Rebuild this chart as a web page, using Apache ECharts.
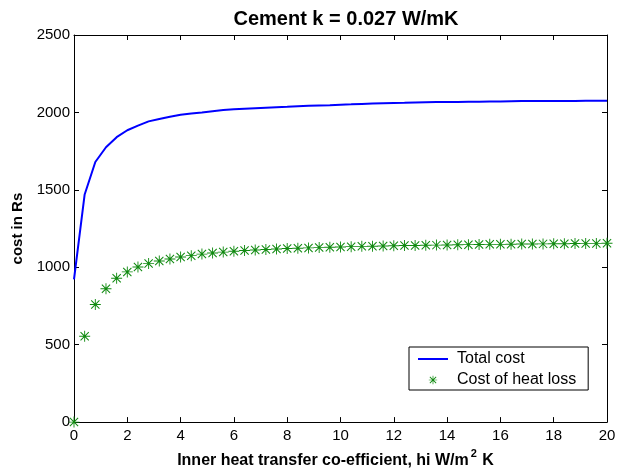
<!DOCTYPE html>
<html>
<head>
<meta charset="utf-8">
<script src="https://cdn.jsdelivr.net/npm/echarts@6/dist/echarts.min.js"></script>
<style>html,body{margin:0;padding:0;background:#fff}#c{width:628px;height:474px}</style>
</head>
<body>
<div id="c"></div>
<script>
// Inner heat transfer coefficient hi (W/m^2 K)
var hiValues = [0,0.4,0.8,1.2,1.6,2,2.4,2.8,3.2,3.6,4,4.4,4.8,5.2,5.6,6,6.4,6.8,7.2,7.6,8,8.4,8.8,9.2,9.6,10,10.4,10.8,11.2,11.6,12,12.4,12.8,13.2,13.6,14,14.4,14.8,15.2,15.6,16,16.4,16.8,17.2,17.6,18,18.4,18.8,19.2,19.6,20];
// Total cost (Rs)
var totalCost = [921,1470,1680,1775,1840,1885,1915,1942,1958,1972,1985,1993,2000,2008,2015,2020,2024,2027,2030,2033,2036,2040,2043,2045,2047,2050,2052,2055,2058,2060,2061,2062,2064,2066,2067,2068,2068,2069,2069,2070,2071,2072,2073,2073,2073,2074,2074,2074,2075,2075,2075];
// Cost of heat loss (Rs)
var heatLossCost = [0,554,759,861,929,970,1002,1025,1040,1053,1066,1075,1085,1092,1098,1103,1108,1112,1115,1118,1121,1123,1125,1127,1129,1131,1133,1135,1136,1137,1139,1140,1141,1142,1143,1144,1145,1146,1147,1148,1148,1149,1150,1150,1151,1152,1152,1153,1154,1154,1155];
var seriesNames = ['Total cost', 'Cost of heat loss'];
var titleText = 'Cement k = 0.027 W/mK';
var xTitle = 'Inner heat transfer co-efficient, hi W/m';
var yTitle = 'cost in Rs';
var xMin = 0, xMax = 20, xStep = 2;
var yMin = 0, yMax = 2500, yStep = 500;

var FONT = '"Liberation Sans", Arial, sans-serif';
var star = 'path://M0,5.5 L12,5.5 L12,6.5 L0,6.5 Z M5.5,0 L6.5,0 L6.5,12 L5.5,12 Z M1.1,1.9 L1.9,1.1 L10.9,10.1 L10.1,10.9 Z M10.1,1.1 L10.9,1.9 L1.9,10.9 L1.1,10.1 Z';
// same star, padded with empty bounds so it is drawn smaller in the legend box
var starLegend = 'path://M-4,-4 L-4,-4 Z M16,16 L16,16 Z M0,5.5 L12,5.5 L12,6.5 L0,6.5 Z M5.5,0 L6.5,0 L6.5,12 L5.5,12 Z M1.1,1.9 L1.9,1.1 L10.9,10.1 L10.1,10.9 Z M10.1,1.1 L10.9,1.9 L1.9,10.9 L1.1,10.1 Z';
var lineLegend = 'path://M0,0 L30,0 L30,2 L0,2 Z';

function zip(xs, ys) { return xs.map(function (x, i) { return [x, ys[i]]; }); }

var axisCommon = {
  axisLine: { show: true, onZero: false, lineStyle: { color: '#000', width: 1 } },
  axisTick: { show: true, inside: true, length: 5, lineStyle: { color: '#000', width: 1 } },
  splitLine: { show: false }
};

var chart = echarts.init(document.getElementById('c'), null, { renderer: 'canvas' });
chart.setOption({
  animation: false,
  backgroundColor: '#fff',
  title: {
    text: titleText, left: 341, top: 4, textAlign: 'center',
    textStyle: { fontFamily: FONT, fontSize: 20, fontWeight: 'bold', color: '#000' }
  },
  grid: { left: 74, right: 21, top: 35, bottom: 48, containLabel: false },
  legend: {
    orient: 'vertical', left: 409, top: 347,
    padding: [4, 12, 2, 9], itemGap: 5, itemWidth: 30, itemHeight: 14,
    symbolKeepAspect: true,
    backgroundColor: '#fff', borderColor: '#000', borderWidth: 1, borderRadius: 0,
    textStyle: { fontFamily: FONT, fontSize: 16, color: '#000', lineHeight: 16, padding: [0, 0, 0, 4] },
    data: [
      { name: seriesNames[0], icon: lineLegend, itemStyle: { color: '#0000ff' } },
      { name: seriesNames[1], icon: starLegend }
    ]
  },
  xAxis: [
    Object.assign({}, axisCommon, {
      type: 'value', min: xMin, max: xMax, interval: xStep, position: 'bottom',
      axisLabel: { color: '#000', fontFamily: FONT, fontSize: 15, margin: 6 },
      name: '{a|' + xTitle + '}{s|2}{a| K}', nameLocation: 'middle', nameGap: 25,
      nameTextStyle: {
        padding: [0, 10, 0, 0],
        rich: {
          a: { fontFamily: FONT, fontSize: 16, fontWeight: 'bold', color: '#000', lineHeight: 21, verticalAlign: 'bottom' },
          s: { fontFamily: FONT, fontSize: 11, fontWeight: 'bold', color: '#000', lineHeight: 10, verticalAlign: 'top', padding: [0, 1, 0, 2] }
        }
      }
    }),
    Object.assign({}, axisCommon, {
      type: 'value', min: xMin, max: xMax, interval: xStep, position: 'top',
      axisLabel: { show: false }
    })
  ],
  yAxis: [
    Object.assign({}, axisCommon, {
      type: 'value', min: yMin, max: yMax, interval: yStep, position: 'left',
      axisLabel: { color: '#000', fontFamily: FONT, fontSize: 15, margin: 4, formatter: function (v) { return String(v); } },
      name: yTitle, nameLocation: 'middle', nameGap: 43,
      nameTextStyle: { fontFamily: FONT, fontSize: 15, fontWeight: 'bold', color: '#000' }
    }),
    Object.assign({}, axisCommon, {
      type: 'value', min: yMin, max: yMax, interval: yStep, position: 'right',
      axisLabel: { show: false }
    })
  ],
  series: [
    {
      name: seriesNames[0], type: 'line', xAxisIndex: 0, yAxisIndex: 0,
      data: zip(hiValues, totalCost), symbol: 'none', showSymbol: false,
      lineStyle: { color: '#0000ff', width: 2 }, itemStyle: { color: '#0000ff' }, z: 3
    },
    {
      name: seriesNames[1], type: 'scatter', xAxisIndex: 0, yAxisIndex: 0,
      data: zip(hiValues, heatLossCost), symbol: star, symbolSize: 11,
      itemStyle: { color: '#108a10', opacity: 1 }, z: 2
    }
  ]
});
</script>
</body>
</html>
